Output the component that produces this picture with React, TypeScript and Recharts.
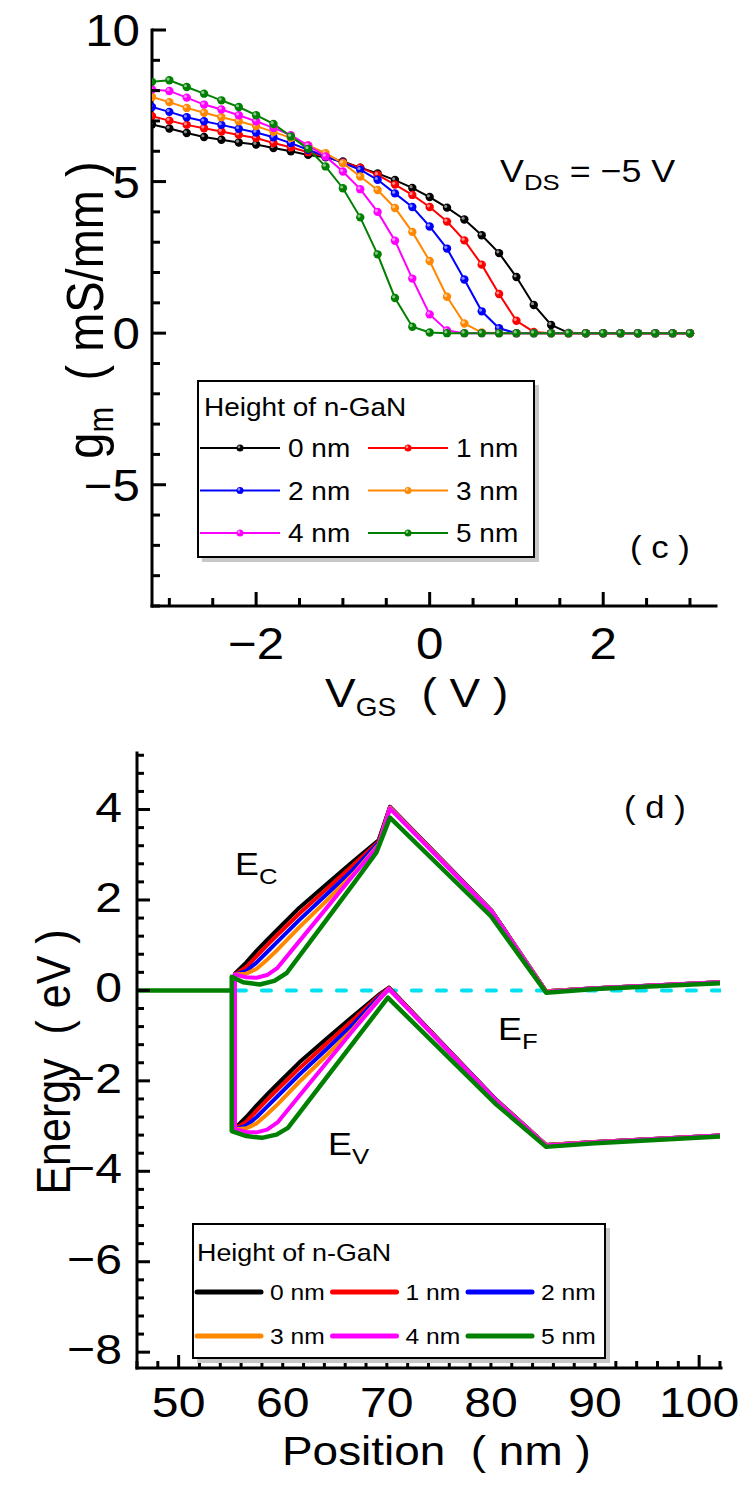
import React from 'react';
import { LineChart, Line, XAxis, YAxis, Legend } from 'recharts';

const FONT = '"Liberation Sans", Arial, sans-serif';
const SX = 1.12;

// ---------- Panel (c): transconductance ----------
const VGS = [-3.2, -3.0, -2.8, -2.6, -2.4, -2.2, -2.0, -1.8, -1.6, -1.4, -1.2, -1.0, -0.8, -0.6, -0.4, -0.2, 0.0, 0.2, 0.4, 0.6, 0.8, 1.0, 1.2, 1.4, 1.6, 1.8, 2.0, 2.2, 2.4, 2.6, 2.8, 3.0];
const GM_0NM = [6.88, 6.75, 6.60, 6.47, 6.38, 6.29, 6.22, 6.11, 6.00, 5.88, 5.80, 5.66, 5.46, 5.27, 5.05, 4.79, 4.49, 4.14, 3.75, 3.23, 2.64, 1.85, 0.93, 0.27, 0.01, 0, 0, 0, 0, 0, 0, 0];
const GM_1NM = [7.16, 7.01, 6.87, 6.76, 6.65, 6.54, 6.44, 6.27, 6.13, 5.97, 5.83, 5.64, 5.46, 5.22, 4.90, 4.56, 4.16, 3.68, 3.06, 2.26, 1.29, 0.41, 0.04, 0, 0, 0, 0, 0, 0, 0, 0, 0];
const GM_2NM = [7.46, 7.30, 7.12, 6.99, 6.87, 6.74, 6.62, 6.46, 6.27, 6.05, 5.83, 5.62, 5.39, 5.06, 4.61, 4.16, 3.52, 2.79, 1.77, 0.72, 0.16, 0, 0, 0, 0, 0, 0, 0, 0, 0, 0, 0];
const GM_3NM = [7.79, 7.62, 7.43, 7.27, 7.12, 6.99, 6.83, 6.64, 6.44, 6.19, 5.94, 5.61, 5.17, 4.72, 4.13, 3.34, 2.38, 1.20, 0.32, 0.02, 0, 0, 0, 0, 0, 0, 0, 0, 0, 0, 0, 0];
const GM_4NM = [8.04, 7.99, 7.77, 7.54, 7.38, 7.19, 6.99, 6.77, 6.53, 6.19, 5.83, 5.33, 4.75, 4.00, 3.05, 1.80, 0.62, 0.09, 0, 0, 0, 0, 0, 0, 0, 0, 0, 0, 0, 0, 0, 0];
const GM_5NM = [8.29, 8.34, 8.12, 7.90, 7.68, 7.46, 7.19, 6.90, 6.49, 6.08, 5.50, 4.78, 3.82, 2.60, 1.16, 0.21, 0.02, 0, 0, 0, 0, 0, 0, 0, 0, 0, 0, 0, 0, 0, 0, 0];

const VGS_TICKS = [-3, -2.5, -2, -1.5, -1, -0.5, 0, 0.5, 1, 1.5, 2, 2.5, 3];
const VGS_MAJOR = [-2, 0, 2];
const GM_TICKS = [-9, -8, -7, -6, -5, -4, -3, -2, -1, 0, 1, 2, 3, 4, 5, 6, 7, 8, 9, 10];
const GM_MAJOR = [-5, 0, 5, 10];

// ---------- Panel (d): band diagram ----------
const POS_EC = [55.4, 56.5, 57.5, 58.5, 59.5, 61.6, 64.2, 66.8, 69.2, 70.3, 80.1, 85.3, 90, 102];
const POS_EV = [55.4, 56.5, 57.5, 58.5, 59.5, 61.6, 64.2, 66.8, 69.2, 70.2, 80.5, 85.3, 90, 102];
const EC_0NM = [0.37, 0.62, 0.88, 1.12, 1.35, 1.83, 2.35, 2.86, 3.32, 4.06, 1.75, -0.02, 0.05, 0.18];
const EV_0NM = [-3.05, -2.80, -2.54, -2.30, -2.07, -1.59, -1.07, -0.56, -0.10, 0.06, -2.42, -3.42, -3.35, -3.21];
const EC_1NM = [0.35, 0.52, 0.76, 1.00, 1.23, 1.70, 2.24, 2.78, 3.29, 4.06, 1.75, -0.02, 0.05, 0.18];
const EV_1NM = [-3.07, -2.90, -2.66, -2.42, -2.19, -1.72, -1.18, -0.64, -0.13, 0.06, -2.42, -3.42, -3.35, -3.21];
const EC_2NM = [0.35, 0.43, 0.62, 0.85, 1.08, 1.56, 2.12, 2.68, 3.26, 4.05, 1.75, -0.02, 0.05, 0.18];
const EV_2NM = [-3.07, -2.99, -2.80, -2.57, -2.34, -1.86, -1.30, -0.74, -0.16, 0.05, -2.42, -3.42, -3.35, -3.21];
const EC_3NM = [0.35, 0.37, 0.48, 0.68, 0.90, 1.40, 1.98, 2.58, 3.22, 4.04, 1.74, -0.02, 0.05, 0.18];
const EV_3NM = [-3.07, -3.05, -2.94, -2.74, -2.52, -2.02, -1.44, -0.84, -0.20, 0.04, -2.43, -3.42, -3.35, -3.21];
const EC_4NM = [0.35, 0.29, 0.28, 0.34, 0.50, 1.09, 1.82, 2.55, 3.20, 4.02, 1.73, -0.03, 0.05, 0.18];
const EV_4NM = [-3.07, -3.13, -3.14, -3.08, -2.92, -2.33, -1.60, -0.87, -0.22, 0.03, -2.44, -3.43, -3.36, -3.21];
const POS_EC_5NM = [55.1, 56.2, 57.8, 59.2, 60.4, 64.2, 66.8, 69.0, 70.3, 80.0, 85.3, 90, 102];
const EC_5NM = [0.30, 0.18, 0.13, 0.21, 0.39, 1.56, 2.36, 3.05, 3.82, 1.64, -0.05, 0.03, 0.16];
const POS_EV_5NM = [55.1, 56.5, 58.0, 59.4, 60.5, 64.2, 66.8, 70.1, 80.5, 85.3, 90, 102];
const EV_5NM = [-3.11, -3.22, -3.26, -3.19, -3.04, -1.93, -1.15, -0.16, -2.52, -3.46, -3.38, -3.23];
const POS_GATE = [46, 55.1];
const E_GATE = [0, 0];
const POS_EF = [55.6, 102];
const E_EF = [0, 0];

const POS_TICKS = [46, 48, 50, 52, 54, 56, 58, 60, 62, 64, 66, 68, 70, 72, 74, 76, 78, 80, 82, 84, 86, 88, 90, 92, 94, 96, 98, 100, 102];
const POS_MAJOR = [50, 60, 70, 80, 90, 100];
const EN_TICKS = [-8, -7.6, -7.2, -6.8, -6.4, -6, -5.6, -5.2, -4.8, -4.4, -4, -3.6, -3.2, -2.8, -2.4, -2, -1.6, -1.2, -0.8, -0.4, 0, 0.4, 0.8, 1.2, 1.6, 2, 2.4, 2.8, 3.2, 3.6, 4, 4.4, 4.8, 5.2];
const EN_MAJOR = [-8, -6, -4, -2, 0, 2, 4];

const NAMES = ['0 nm', '1 nm', '2 nm', '3 nm', '4 nm', '5 nm'];
const COLORS = ['#000000', '#ff0000', '#0000ff', '#ff8800', '#ff00ff', '#008000'];
const GM_KEYS = ['g0', 'g1', 'g2', 'g3', 'g4', 'g5'];

const gmRows = VGS.map((v, j) => ({
  vgs: v, g0: GM_0NM[j], g1: GM_1NM[j], g2: GM_2NM[j], g3: GM_3NM[j], g4: GM_4NM[j], g5: GM_5NM[j],
}));

function band(posEv: number[], ev: number[], posEc: number[], ec: number[], withGate: boolean) {
  const pts: { x: number; e: number }[] = [];
  for (let i = posEv.length - 1; i >= 0; i--) pts.push({ x: posEv[i], e: ev[i] });
  if (withGate) {
    pts.push({ x: POS_GATE[1], e: E_GATE[1] });
    pts.push({ x: POS_GATE[0], e: E_GATE[0] });
    pts.push({ x: POS_GATE[1], e: E_GATE[1] });
  }
  for (let i = 0; i < posEc.length; i++) pts.push({ x: posEc[i], e: ec[i] });
  return pts;
}

const BANDS = [
  band(POS_EV, EV_0NM, POS_EC, EC_0NM, false),
  band(POS_EV, EV_1NM, POS_EC, EC_1NM, false),
  band(POS_EV, EV_2NM, POS_EC, EC_2NM, false),
  band(POS_EV, EV_3NM, POS_EC, EC_3NM, false),
  band(POS_EV, EV_4NM, POS_EC, EC_4NM, false),
  band(POS_EV_5NM, EV_5NM, POS_EC_5NM, EC_5NM, true),
];
const EF_LINE = POS_EF.map((p, i) => ({ x: p, e: E_EF[i] }));

// ---------- helpers ----------
const SText = ({ x, y, size, anchor = 'start', rotate = false, children }: any) => (
  <text
    transform={rotate ? `translate(${x},${y}) rotate(-90) scale(1,${SX})` : `translate(${x},${y}) scale(${SX},1)`}
    fontSize={size}
    fontFamily={FONT}
    textAnchor={anchor}
    fill="#000"
    style={{ whiteSpace: 'pre' }}
  >
    {children}
  </text>
);

const fmt = (v: number) => String(v).replace('-', '\u2212');
const isMajor = (majors: number[], v: number) => majors.some((m) => Math.abs(m - v) < 1e-6);

function makeTick(side: string, majors: number[], majL: number, minL: number, labelSize: number, labelGap: number, labelDy: number) {
  return (p: any) => {
    const { x, y, payload, index } = p;
    const v = payload.value;
    const maj = isMajor(majors, v);
    const L = maj ? majL : minL;
    let ln: any;
    if (side === 'bottom') ln = <line x1={x} y1={y} x2={x} y2={y - L} />;
    else if (side === 'top') ln = <line x1={x} y1={y} x2={x} y2={y + L} />;
    else if (side === 'left') ln = <line x1={x} y1={y} x2={x + L} y2={y} />;
    else ln = <line x1={x} y1={y} x2={x - L} y2={y} />;
    let lab: any = null;
    if (maj && labelSize > 0) {
      if (side === 'bottom') lab = <SText x={x} y={y + labelGap} size={labelSize} anchor="middle">{fmt(v)}</SText>;
      else if (side === 'left') lab = <SText x={x - labelGap} y={y + labelDy} size={labelSize} anchor="end">{fmt(v)}</SText>;
    }
    return (
      <g key={`t-${side}-${index}`}>
        <g stroke="#000" strokeWidth={3}>{ln}</g>
        {lab}
      </g>
    );
  };
}

const AXIS_LINE = { stroke: '#000', strokeWidth: 3, strokeLinecap: 'square' as const };

const Ball = ({ cx, cy, r = 4, color }: any) => (
  <g>
    <circle cx={cx} cy={cy} r={r} fill={color} />
    <circle cx={cx - r * 0.3} cy={cy - r * 0.3} r={r * 0.38} fill="#fff" fillOpacity={0.55} />
  </g>
);

const byName = (a: any, b: any) => String(a.value).localeCompare(String(b.value));

const LegendTop = (props: any) => {
  const items = (props.payload || []).filter((p: any) => p.type !== 'none').slice().sort(byName);
  return (
    <svg width={345} height={185} style={{ display: 'block' }}>
      <rect x={5} y={5} width={337} height={177} fill="#c8c8c8" />
      <rect x={1} y={1} width={336} height={176} fill="#fff" stroke="#000" strokeWidth={2} />
      <SText x={7} y={36} size={25}>Height of n-GaN</SText>
      {items.map((it: any, i: number) => {
        const col = i % 2;
        const row = Math.floor(i / 2);
        const x0 = col ? 171 : 3;
        const cy = 68 + row * 42.5;
        return (
          <g key={i}>
            <line x1={x0} x2={x0 + 80} y1={cy} y2={cy} stroke={it.color} strokeWidth={2} />
            <Ball cx={x0 + 40} cy={cy} r={3.5} color={it.color} />
            <SText x={x0 + 88} y={cy + 9} size={25}>{it.value}</SText>
          </g>
        );
      })}
    </svg>
  );
};

const LegendBottom = (props: any) => {
  const items = (props.payload || []).filter((p: any) => p.type !== 'none').slice().sort(byName);
  return (
    <svg width={420} height={142} style={{ display: 'block' }}>
      <rect x={5} y={5} width={413} height={135} fill="#c8c8c8" />
      <rect x={1} y={1} width={412} height={134} fill="#fff" stroke="#000" strokeWidth={2} />
      <SText x={5} y={38} size={24}>Height of n-GaN</SText>
      {items.map((it: any, i: number) => {
        const col = i % 3;
        const row = Math.floor(i / 3);
        const x0 = 5 + col * 135.5;
        const cy = 69 + row * 44;
        return (
          <g key={i}>
            <line x1={x0} x2={x0 + 64} y1={cy} y2={cy} stroke={it.color} strokeWidth={5} strokeLinecap="round" />
            <SText x={x0 + 73} y={cy + 8} size={22}>{it.value}</SText>
          </g>
        );
      })}
    </svg>
  );
};

export default function App() {
  return (
    <div style={{ position: 'absolute', left: 0, top: 0, width: 743, height: 1489, background: '#fff', overflow: 'hidden' }}>
      {/* Panel (c) */}
      <div style={{ position: 'absolute', left: 0, top: 0 }}>
        <LineChart width={743} height={740} data={gmRows} margin={{ top: 30, right: 27, bottom: 0, left: 0 }}>
          <XAxis dataKey="vgs" type="number" domain={[-3.2, 3.3]} ticks={VGS_TICKS} interval={0} allowDataOverflow
            height={134} tickSize={0} tickMargin={0} tickLine={false} axisLine={AXIS_LINE}
            tick={makeTick('bottom', VGS_MAJOR, 14, 8, 44, 53, 0)} />
          <XAxis xAxisId="top" orientation="top" dataKey="vgs" type="number" domain={[-3.2, 3.3]} ticks={VGS_TICKS} interval={0} allowDataOverflow
            height={0} tickSize={0} tickMargin={0} tickLine={false} axisLine={AXIS_LINE}
            tick={makeTick('top', VGS_MAJOR, 14, 8, 0, 0, 0)} />
          <YAxis type="number" domain={[-9, 10]} ticks={GM_TICKS} interval={0} allowDataOverflow
            width={152} tickSize={0} tickMargin={0} tickLine={false} axisLine={AXIS_LINE}
            tick={makeTick('left', GM_MAJOR, 14, 8, 44, 12, 16)} />
          <YAxis yAxisId="right" orientation="right" type="number" domain={[-9, 10]} ticks={GM_TICKS} interval={0} allowDataOverflow
            width={0} tickSize={0} tickMargin={0} tickLine={false} axisLine={AXIS_LINE}
            tick={makeTick('right', GM_MAJOR, 14, 8, 0, 0, 0)} />
          {GM_KEYS.map((k, i) => (
            <Line key={k} type="linear" dataKey={k} name={NAMES[i]} stroke={COLORS[i]} strokeWidth={2}
              isAnimationActive={false} activeDot={false}
              dot={(p: any) => <Ball key={`d${i}-${p.index}`} cx={p.cx} cy={p.cy} r={4.2} color={COLORS[i]} />} />
          ))}
          <Legend content={LegendTop} layout="horizontal" verticalAlign="middle" align="center"
            wrapperStyle={{ left: 197, top: 380, width: 345, height: 185 }} />
        </LineChart>
      </div>

      {/* Panel (d) */}
      <div style={{ position: 'absolute', left: 0, top: 740 }}>
        <LineChart width={743} height={749} margin={{ top: 13, right: 22, bottom: 0, left: 0 }}>
          <XAxis dataKey="x" type="number" domain={[46, 102.1]} ticks={POS_TICKS} interval={0} allowDataOverflow
            height={121} tickSize={0} tickMargin={0} tickLine={false} axisLine={AXIS_LINE}
            tick={makeTick('bottom', POS_MAJOR, 13, 7, 43, 49, 0)} />
          <XAxis xAxisId="top" orientation="top" dataKey="x" type="number" domain={[46, 102.1]} ticks={POS_TICKS} interval={0} allowDataOverflow
            height={0} tickSize={0} tickMargin={0} tickLine={false} axisLine={AXIS_LINE}
            tick={makeTick('top', POS_MAJOR, 13, 7, 0, 0, 0)} />
          <YAxis dataKey="e" type="number" domain={[-8.35, 5.25]} ticks={EN_TICKS} interval={0} allowDataOverflow
            width={137} tickSize={0} tickMargin={0} tickLine={false} axisLine={AXIS_LINE}
            tick={makeTick('left', EN_MAJOR, 13, 7, 43, 15, 12)} />
          <YAxis yAxisId="right" orientation="right" type="number" domain={[-8.35, 5.25]} ticks={EN_TICKS} interval={0} allowDataOverflow
            width={0} tickSize={0} tickMargin={0} tickLine={false} axisLine={AXIS_LINE}
            tick={makeTick('right', EN_MAJOR, 13, 7, 0, 0, 0)} />
          <Line data={EF_LINE} dataKey="e" name="EF" legendType="none" stroke="#00e0f0" strokeWidth={4}
            strokeDasharray="9 16" strokeLinecap="round" dot={false} activeDot={false} isAnimationActive={false} />
          {BANDS.map((pts, i) => (
            <Line key={`b${i}`} data={pts} dataKey="e" name={NAMES[i]} stroke={COLORS[i]} strokeWidth={i === 5 ? 4.5 : 4}
              strokeLinejoin="round" dot={false} activeDot={false} isAnimationActive={false} />
          ))}
          <Legend content={LegendBottom} layout="horizontal" verticalAlign="middle" align="center"
            wrapperStyle={{ left: 192, top: 483, width: 420, height: 142 }} />
        </LineChart>
      </div>

      {/* titles and annotations */}
      <svg width={743} height={1489} style={{ position: 'absolute', left: 0, top: 0, pointerEvents: 'none' }}>
        {/* panel (c) */}
        <SText x={500} y={182} size={32}>
          V<tspan fontSize={23} dy={8}>DS</tspan><tspan dy={-8}> = {'\u2212'}5 V</tspan>
        </SText>
        <SText x={630} y={558} size={31}>( c )</SText>
        <SText x={325} y={707} size={41}>
          V<tspan fontSize={25} dy={9}>GS</tspan><tspan dy={-9}>{'  ( V )'}</tspan>
        </SText>
        <SText x={103} y={310} size={47} rotate anchor="middle">
          g<tspan fontSize={31} dy={9}>m</tspan><tspan dy={-9}>{'  ( mS/mm )'}</tspan>
        </SText>

        {/* panel (d) */}
        <SText x={624} y={818} size={31}>( d )</SText>
        <SText x={235} y={875} size={32}>
          E<tspan fontSize={23} dy={9}>C</tspan>
        </SText>
        <SText x={498} y={1040} size={32}>
          E<tspan fontSize={23} dy={9}>F</tspan>
        </SText>
        <SText x={328} y={1155} size={32}>
          E<tspan fontSize={23} dy={9}>V</tspan>
        </SText>
        <SText x={282} y={1465} size={41}>{'Position  ( nm )'}</SText>
        <SText x={70} y={1062} size={43} rotate anchor="middle">{'Energy  ( eV )'}</SText>
      </svg>
    </div>
  );
}
